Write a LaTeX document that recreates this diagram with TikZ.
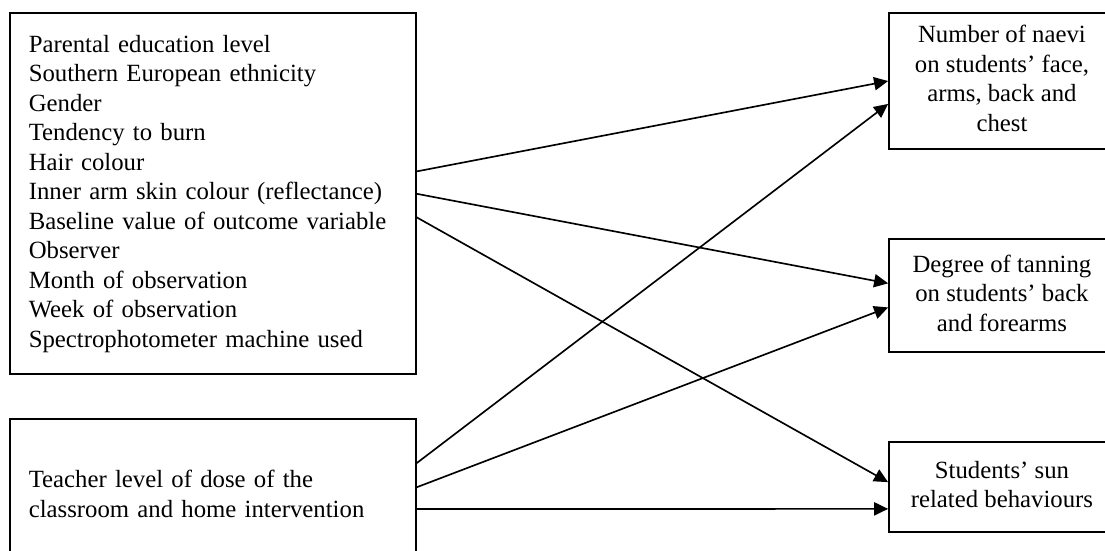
\documentclass[tikz,border=0pt]{standalone}
\usepackage{fontspec}
\setmainfont{Liberation Serif}
\usetikzlibrary{arrows.meta}

\begin{document}
\begin{tikzpicture}[
    box/.style={draw, line width=0.8pt, font=\fontsize{12}{14.3}\selectfont},
    leftbox/.style={box, align=left, text width=6.27cm, inner xsep=0.32cm},
    outbox/.style={box, minimum width=4.6cm},
    link/.style={-{Triangle[length=6.8pt,width=6.4pt]}, line width=0.8pt}]
	\useasboundingbox (0,0) rectangle (18.82,9.37);

	% covariates and exposure
	\node[leftbox, minimum height=6.15cm] (factors) at (3.625,6.07)
        {Parental education level\\Southern European ethnicity\\Gender\\
        Tendency to burn\\Hair colour\\Inner arm skin colour (reflectance)\\
        Baseline value of outcome variable\\Observer\\Month of observation\\
        Week of observation\\Spectrophotometer machine used};
	\node[leftbox, minimum height=2.55cm] (dose) at (3.625,0.96)
        {Teacher level of dose of the\\classroom and home intervention};

	% outcomes (boxes run off the right edge)
	\node[outbox, minimum height=2.315cm] (naevi) at (17.44,7.99)
        {\begin{tabular}{@{}c@{}}Number of naevi\\on students’ face,\\
        arms, back and\\chest\end{tabular}\hspace*{0.75cm}};
	\node[outbox, minimum height=1.924cm] (tanning) at (17.44,4.334)
        {\begin{tabular}{@{}c@{}}Degree of tanning\\on students’ back\\
        and forearms\end{tabular}\hspace*{0.75cm}};
	\node[outbox, minimum height=1.532cm] (sun) at (17.44,1.073)
        {\begin{tabular}{@{}c@{}}Students’ sun\\related behaviours\end{tabular}\hspace*{0.75cm}};

	\draw[link] ([yshift=0.38cm]factors.east) -- (naevi.west);
	\draw[link] (factors.east) -- ([yshift=0.21cm]tanning.west);
	\draw[link] ([yshift=-0.40cm]factors.east) -- ([yshift=0.085cm]sun.west);
	\draw[link] ([yshift=0.52cm]dose.east) -- ([yshift=-0.39cm]naevi.west);
	\draw[link] ([yshift=0.11cm]dose.east) -- ([yshift=-0.20cm]tanning.west);
	\draw[link] ([yshift=-0.26cm]dose.east) -- ([yshift=-0.37cm]sun.west);
\end{tikzpicture}
\end{document}
